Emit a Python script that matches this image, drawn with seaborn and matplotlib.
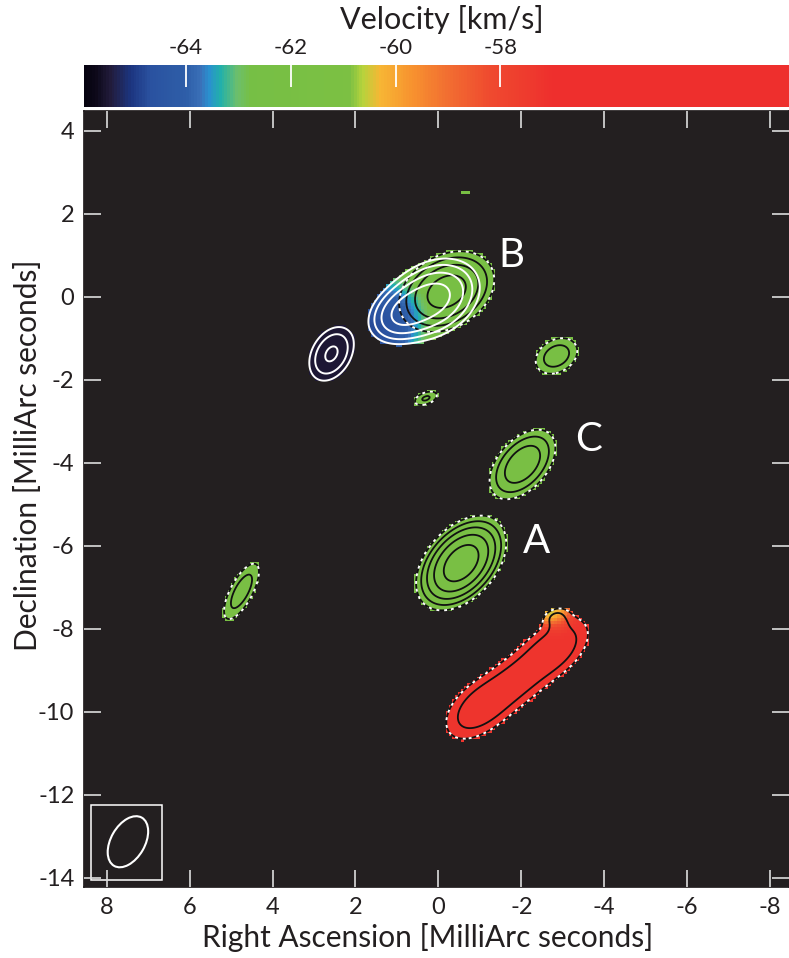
import numpy as np
import matplotlib
matplotlib.use("Agg")
import matplotlib.pyplot as plt
import seaborn as sns
from matplotlib.colors import LinearSegmentedColormap
from matplotlib.patches import Ellipse, Rectangle

# ---------------- data ----------------
# maser components: position (mas), gaussian sigmas (mas), display angle (deg),
# velocity (km/s), peak (in units of lowest contour), contour colour group
comp_name  = ["B-w", "B-k", "B-blue", "navy", "A", "C", "east1", "mid", "west", "dash",
              "R1", "R2", "R3", "tip-o", "tip-g"]
comp_ra    = [0.15, -0.20, 0.85, 2.58, -0.55, -2.03, -2.85, 0.30, 4.75, -0.65,
              -0.98, -1.90, -2.82, -2.90, -2.80]
comp_dec   = [-0.06, 0.12, -0.40, -1.38, -6.42, -4.04, -1.43, -2.45, -7.10, 2.52,
              -9.92, -9.24, -8.47, -7.85, -7.68]
comp_smaj  = [0.56, 0.55, 0.42, 0.40, 0.52, 0.50, 0.36, 0.22, 0.50, 0.20,
              0.60, 0.60, 0.60, 0.20, 0.20]
comp_smin  = [0.40, 0.39, 0.30, 0.27, 0.33, 0.30, 0.26, 0.11, 0.18, 0.08,
              0.36, 0.36, 0.36, 0.15, 0.12]
comp_pa    = [30, 30, 30, 60, 48, 48, 30, 20, 62, 0, 40, 40, 40, 30, 20]
comp_vel   = [-62.8, -61.9, -65.1, -65.5, -62.0, -62.0, -62.2, -62.0, -62.0, -62.0,
              -57.2, -57.2, -57.2, -59.2, -61.8]
comp_peak  = [11, 12, 8, 4.5, 26, 7, 3, 2.2, 3, 0.95, 3.2, 2.4, 3.2, 1.2, 1.3]
comp_group = ["w", "k", "w", "w", "k", "k", "k", "k", "k", "k", "k", "k", "k", "k", "k"]

contour_levels = [1, 2, 4, 8, 16]

label_text = ["A", "B", "C"]
label_ra   = [-2.36, -1.76, -3.62]
label_dec  = [-5.9, 1.0, -3.45]

beam_ra, beam_dec = 7.49, -13.13
beam_major, beam_minor, beam_angle = 1.34, 0.82, 120
beam_box = [6.66, 8.39, -14.06, -12.25]

x_ticks = [8, 6, 4, 2, 0, -2, -4, -6, -8]
y_ticks = [4, 2, 0, -2, -4, -6, -8, -10, -12, -14]
cbar_ticks = [-64, -62, -60, -58]
vmin, vmax = -65.94, -52.5

cmap_vel = [-65.94, -65.75, -65.45, -65.07, -64.69, -64.0, -63.73, -63.58, -63.35, -63.03,
            -62.78, -60.88, -60.63, -60.3, -59.68, -59.03, -58.2, -57.45, -57.0, -52.5]
cmap_col = ["#060310", "#0c0818", "#221c3c", "#1c3580", "#2a52a0", "#2e5ea8", "#3a70b8",
            "#2a8fd0", "#22b0aa", "#6dbf6c", "#76bf45", "#7cc043", "#b6d33c", "#f7b634",
            "#f7922f", "#f26f31", "#ef4a2f", "#ee3a2e", "#ee2f2d", "#ee2f2d"]

# ---------------- style ----------------
sns.set_theme(style="ticks")
plt.rcParams["font.family"] = ["Lato", "DejaVu Sans"]
plt.rcParams["axes.unicode_minus"] = False
plt.rcParams["axes.axisbelow"] = False

cmap = LinearSegmentedColormap.from_list(
    "vel", [((v - vmin) / (vmax - vmin), c) for v, c in zip(cmap_vel, cmap_col)])

xlim = (8.55, -8.46)
ylim = (-14.22, 4.47)


def field(RA, DEC, idx):
    tot = np.zeros_like(RA)
    wv = np.zeros_like(RA)
    for i in idx:
        u = -(RA - comp_ra[i])
        v = DEC - comp_dec[i]
        t = np.deg2rad(comp_pa[i])
        a = u * np.cos(t) + v * np.sin(t)
        b = -u * np.sin(t) + v * np.cos(t)
        g = comp_peak[i] * np.exp(-0.5 * ((a / comp_smaj[i]) ** 2 + (b / comp_smin[i]) ** 2))
        tot += g
        wv += g * comp_vel[i]
    return tot, wv


n = len(comp_ra)
idx_k = [i for i in range(n) if comp_group[i] == "k"]
idx_w = [i for i in range(n) if comp_group[i] == "w"]

# coarse grid for colour pixels
step = 0.075
ra_c = np.arange(xlim[1], xlim[0] + step, step)
dec_c = np.arange(ylim[0], ylim[1] + step, step)
RAc, DECc = np.meshgrid(ra_c, dec_c)
Ic, WVc = field(RAc, DECc, range(n))
Ikc, _ = field(RAc, DECc, idx_k)
Iwc, _ = field(RAc, DECc, idx_w)
vel = np.where(Ic > 0, WVc / np.maximum(Ic, 1e-12), np.nan)
vel = np.ma.masked_where(np.maximum(Ikc, Iwc) < 0.85, vel)

# fine grid for contours
fs = 0.025
ra_f = np.arange(xlim[1], xlim[0] + fs, fs)
dec_f = np.arange(ylim[0], ylim[1] + fs, fs)
RAf, DECf = np.meshgrid(ra_f, dec_f)
Ik, _ = field(RAf, DECf, idx_k)
Iw, _ = field(RAf, DECf, idx_w)

# ---------------- figure ----------------
W, H = 789, 958
fig = plt.figure(figsize=(W / 100, H / 100), dpi=100)
ax = fig.add_axes([84 / W, 1 - 887 / H, 705 / W, 776 / H])
cax = fig.add_axes([84 / W, 1 - 107 / H, 705 / W, 42 / H])

bg = "#231f20"
ax.set_facecolor(bg)
mesh = ax.pcolormesh(RAc, DECc, vel, cmap=cmap, vmin=vmin, vmax=vmax, shading="nearest")

ax.contour(RAf, DECf, Ik, levels=contour_levels, colors="#111111", linewidths=1.3)
ax.contour(RAf, DECf, Ik, levels=contour_levels[:1], colors="white", linewidths=1.4,
           linestyles=[(0, (1.5, 2.5))])
ax.contour(RAf, DECf, Iw, levels=contour_levels, colors="white", linewidths=1.4)

for t, x, y in zip(label_text, label_ra, label_dec):
    ax.text(x, y, t, color="white", fontsize=29, ha="center", va="center")

ax.add_patch(Ellipse((beam_ra, beam_dec), beam_major, beam_minor, angle=beam_angle,
                     fill=False, edgecolor="white", linewidth=1.5))
ax.add_patch(Rectangle((beam_box[0], beam_box[2]), beam_box[1] - beam_box[0],
                       beam_box[3] - beam_box[2], fill=False, edgecolor="white", linewidth=1.1))

ax.set_xlim(*xlim)
ax.set_ylim(*ylim)
ax.set_xticks(x_ticks)
ax.set_yticks(y_ticks)
ax.tick_params(direction="in", length=12, width=1.2, color="#dddddd", top=True, right=True,
               labelsize=17, pad=7, labelcolor="#231f20")
for s in ax.spines.values():
    s.set_color(bg)

fig.text(428 / W, 1 - 937 / H, "Right Ascension [MilliArc seconds]", fontsize=21.5,
         ha="center", va="center", color="#231f20")
fig.text(28 / W, 1 - 455 / H, "Declination [MilliArc seconds]", fontsize=21.5,
         ha="center", va="center", rotation=90, color="#231f20")

cb = fig.colorbar(mesh, cax=cax, orientation="horizontal")
cb.outline.set_visible(False)
cb.set_ticks(cbar_ticks)
cb.set_ticklabels([str(t) for t in cbar_ticks])
cax.set_axisbelow(False)
cax.xaxis.set_ticks_position("top")
cax.xaxis.set_label_position("top")
cax.tick_params(axis="x", which="major", direction="in", length=16, width=1.3, color="white",
                labelsize=16, pad=5, labelcolor="#231f20", top=True, labeltop=True,
                bottom=False, labelbottom=False)
cax.minorticks_off()
fig.text(442 / W, 1 - 20 / H, "Velocity [km/s]", fontsize=22, ha="center", va="center",
         color="#231f20")

fig.savefig("out.png", dpi=100, facecolor="white")
